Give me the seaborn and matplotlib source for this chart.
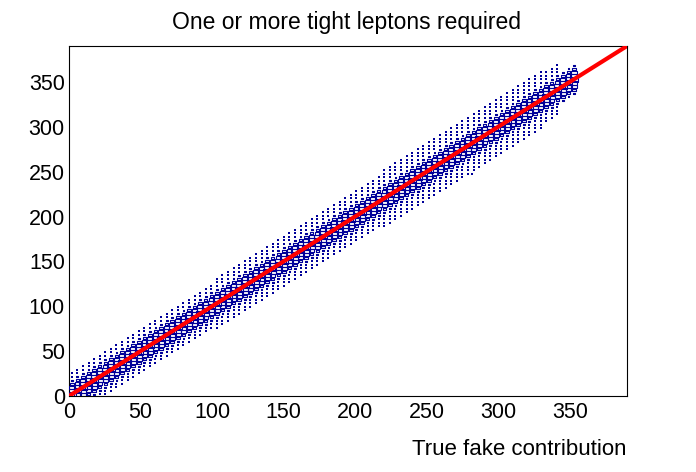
import numpy as np
import pandas as pd
import matplotlib
matplotlib.use("Agg")
import matplotlib.pyplot as plt
from matplotlib.ticker import MultipleLocator
import seaborn as sns

# ---------------- data ----------------
title = "One or more tight leptons required"
x_label = "True fake contribution"
n_bins = 100                # 2D histogram bins per axis
axis_max = 390.0            # both axes 0 .. 390
x_ticks = [0, 50, 100, 150, 200, 250, 300, 350]
y_ticks = [0, 50, 100, 150, 200, 250, 300, 350]
# band along the diagonal: region start (x units) and half width (in bins)
region_start = [0, 40, 100, 160, 220, 280, 330, 345]
outer_half = [6, 6, 7, 7, 8, 8, 7, 4]
last_x = 356.0
# bin content vs |y bin - x bin|
offset_counts = [30, 28, 22, 14, 7, 1, 1, 1, 1]
# isolated entries
outlier_x = [282.0]
outlier_y = [247.0]
# reference line y = x
line_x = [0.0, 390.0]
line_y = [0.0, 390.0]

# ---------------- build cells ----------------
w = axis_max / n_bins
rows = []
for i in range(n_bins):
    xc = (i + 0.5) * w
    if xc > last_x:
        break
    r = max(k for k, s in enumerate(region_start) if s <= xc)
    h = outer_half[r]
    for d in range(-h, h + 1):
        j = i + d
        if j < 0 or j >= n_bins:
            continue
        rows.append(((i + 0.5) * w, (j + 0.5) * w, offset_counts[abs(d)]))
for ox, oy in zip(outlier_x, outlier_y):
    rows.append((ox, oy, 1))
cells = pd.DataFrame(rows, columns=["x", "y", "count"])
cmax = max(offset_counts)
cells["rel"] = cells["count"] / cmax

boxes = cells[cells["rel"] >= 0.15].copy()
dots = cells[cells["rel"] < 0.15].copy()

full_w_pt = 5.4  # full bin width in points
boxes["s"] = (full_w_pt * boxes["rel"]) ** 2

# ---------------- figure ----------------
sns.set_style("white")
plt.rcParams["font.family"] = ["Liberation Sans", "DejaVu Sans"]
plt.rcParams["text.color"] = "black"

fig = plt.figure(figsize=(6.96, 4.72), dpi=100)
ax = fig.add_axes([69 / 696, 1 - 396 / 472, (627 - 69) / 696, (396 - 46) / 472])

blue = "#000099"
rect = [(-0.5, -0.3125), (0.5, -0.3125), (0.5, 0.3125), (-0.5, 0.3125), (-0.5, -0.3125)]

sns.scatterplot(data=dots, x="x", y="y", marker="s", s=3.4, color=blue,
                linewidth=0, ax=ax, legend=False, zorder=2)
smin, smax = boxes["s"].min(), boxes["s"].max()
sns.scatterplot(data=boxes, x="x", y="y", size="s", sizes=(smin, smax),
                size_norm=(smin, smax), marker=rect, facecolor="none",
                edgecolor=blue, linewidth=0.8, ax=ax, legend=False, zorder=3)
sns.lineplot(x=line_x, y=line_y, color="#ff0000", linewidth=3.0, ax=ax, zorder=4)

ax.set_xlim(0, axis_max)
ax.set_ylim(0, axis_max)
ax.set_xticks(x_ticks)
ax.set_yticks(y_ticks)
ax.xaxis.set_minor_locator(MultipleLocator(10))
ax.yaxis.set_minor_locator(MultipleLocator(10))
ax.set_xlabel("")
ax.set_ylabel("")
for sp in ax.spines.values():
    sp.set_visible(True)
    sp.set_color("black")
    sp.set_linewidth(0.8)
ax.tick_params(which="both", direction="in", top=False, right=False,
               color="black", width=0.8, labelsize=15.5, labelcolor="black")
ax.tick_params(axis="y", which="major", length=11.5, pad=3)
ax.tick_params(axis="y", which="minor", length=5.8)
ax.tick_params(axis="x", which="major", length=7.9, pad=4)
ax.tick_params(axis="x", which="minor", length=4.0)

fig.text(346 / 696, 1 - 28.5 / 472, title, ha="center", va="baseline",
         fontsize=16.5, color="black")
fig.text(627 / 696, 1 - 455 / 472, x_label, ha="right", va="baseline",
         fontsize=16, color="black")

fig.savefig("out.png", dpi=100, facecolor="white")
